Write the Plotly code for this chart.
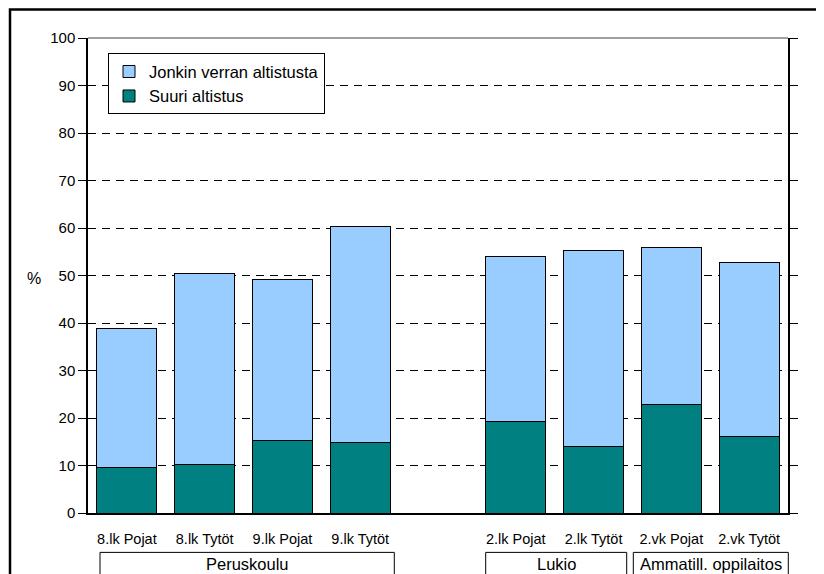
import plotly.graph_objects as go

categories = ["8.lk Pojat", "8.lk Tytöt", "9.lk Pojat", "9.lk Tytöt", " ",
              "2.lk Pojat", "2.lk Tytöt", "2.vk Pojat", "2.vk Tytöt"]
suuri = [9.5, 10.2, 15.2, 14.9, None, 19.2, 13.9, 22.8, 16.1]
jonkin = [29.4, 40.2, 34.0, 45.4, None, 34.8, 41.4, 33.1, 36.7]
y_ticks = [0, 10, 20, 30, 40, 50, 60, 70, 80, 90, 100]
groups = ["Peruskoulu", "Lukio", "Ammatill. oppilaitos"]

FONT = "Liberation Sans, Arial, sans-serif"

fig = go.Figure()
fig.add_trace(go.Bar(x=categories, y=suuri, name="Suuri altistus",
                     marker=dict(color="#008080", line=dict(color="black", width=1))))
fig.add_trace(go.Bar(x=categories, y=jonkin, name="Jonkin verran altistusta",
                     marker=dict(color="#99CCFF", line=dict(color="black", width=1))))

OFF = 8  # page body margin
W, H = 824, 574
L, T = 88 - OFF, 38 - OFF
R = W - (788 - OFF)
B = H - (513.3 - OFF)
PW, PH = W - L - R, H - T - B

def px(xp):
    return (xp - OFF - L) / PW

def py(yp):
    return (H - B - (yp - OFF)) / PH

shapes = []
# outer chart border (extends beyond the visible page)
shapes.append(dict(type="rect", xref="paper", yref="paper",
                   x0=px(10), x1=px(900), y0=py(650), y1=py(9.5),
                   line=dict(color="black", width=2.5), fillcolor="rgba(0,0,0,0)"))
# grey top of plot area
shapes.append(dict(type="line", xref="paper", yref="paper", x0=0, x1=1, y0=1, y1=1,
                   line=dict(color="#808080", width=1.5), layer="below"))

group_boxes = [(100, 394.3), (485.7, 626.7), (633.3, 788.3)]
annotations = []
for name, (a, b) in zip(groups, group_boxes):
    shapes.append(dict(type="rect", xref="paper", yref="paper",
                       x0=px(a), x1=px(b), y0=py(600), y1=py(552.7),
                       line=dict(color="black", width=1), fillcolor="white"))
    annotations.append(dict(xref="paper", yref="paper", x=(px(a) + px(b)) / 2, y=py(564),
                            text=name, showarrow=False, xanchor="center", yanchor="middle",
                            font=dict(family=FONT, size=16.5, color="black")))

annotations.append(dict(xref="paper", yref="paper", x=px(34), y=py(279), text="%",
                        showarrow=False, xanchor="center", yanchor="middle",
                        font=dict(family=FONT, size=16, color="black")))

fig.update_layout(
    width=W, height=H,
    margin=dict(l=L, r=R, t=T, b=B, pad=0),
    paper_bgcolor="white", plot_bgcolor="white",
    barmode="stack", bargap=0.229,
    font=dict(family=FONT, color="black"),
    shapes=shapes, annotations=annotations,
    legend=dict(x=px(108), y=py(53.3), xanchor="left", yanchor="top",
                bgcolor="white", bordercolor="black", borderwidth=1,
                font=dict(family=FONT, size=16.5, color="black")),
    xaxis=dict(type="category", categoryorder="array", categoryarray=categories,
               showline=True, linecolor="black", linewidth=1.5, ticks="",
               showgrid=False, tickfont=dict(family=FONT, size=14.5, color="black"),
               ticklabelstandoff=12, fixedrange=True),
    yaxis=dict(range=[0, 100], tickvals=y_ticks, showline=True, linecolor="black",
               linewidth=1.5, mirror="ticks", ticks="outside", ticklen=8,
               tickcolor="black", tickwidth=1, showgrid=True, gridcolor="black",
               gridwidth=1, griddash="8px,6px", zeroline=False,
               tickfont=dict(family=FONT, size=15, color="black"), fixedrange=True),
)

fig.write_html("out.html")
